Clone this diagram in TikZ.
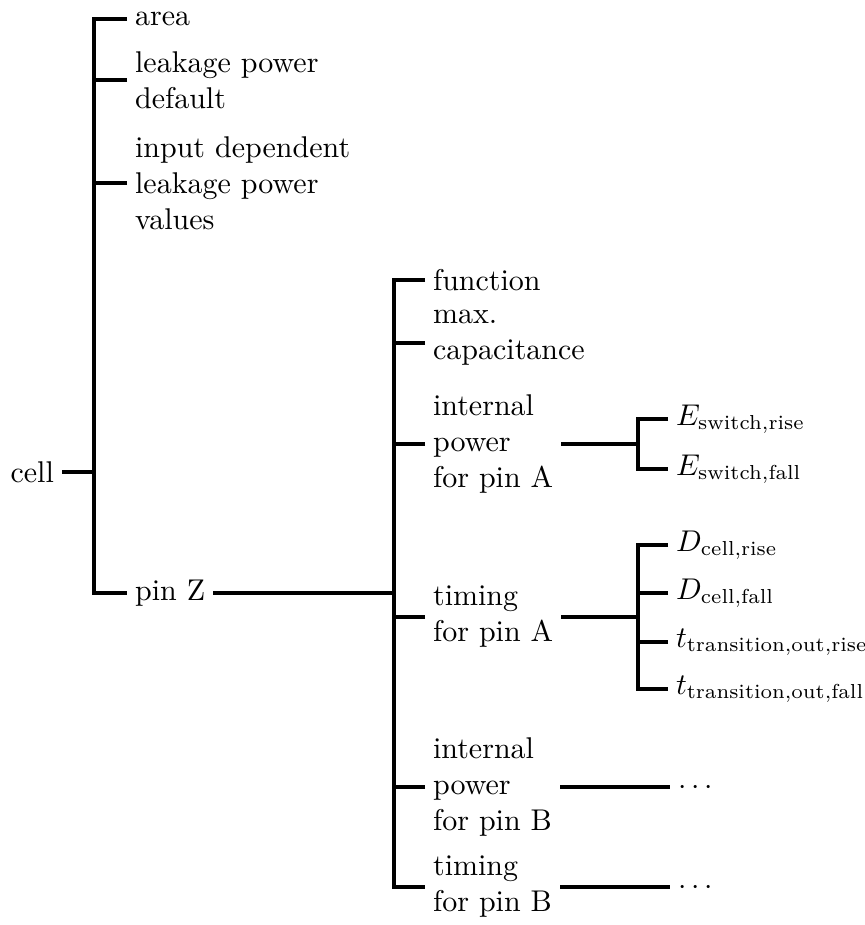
\documentclass[tikz,border=0pt]{standalone}
\newcommand{\idx}[1]{\mbox{\fontsize{6.75}{8}\selectfont #1}}
\begin{document}
\begin{tikzpicture}[x=0.33333pt,y=-0.33333pt,
  every node/.style={inner xsep=2.5pt, inner ysep=0pt},
  lbl/.style={anchor=west, align=left},
  dots/.style={text height=5pt, text depth=0pt},
  conn/.style={line width=1.1pt}]
\useasboundingbox (0,0) rectangle (865,925);

% root and first level
\node[anchor=east] (cell) at (62,472) {cell};
\coordinate (j1) at (94,472);
\node[lbl] (area)   at (127,19)  {area};
\node[lbl] (leak)   at (127,80)  {leakage power\\default};
\node[lbl] (inleak) at (127,183) {input dependent\\leakage power\\values};
\node[lbl] (pinz)   at (127,593) {pin Z};

% attributes of pin Z
\coordinate (j2) at (394,593);
\node[lbl] (func)   at (425,280) {function};
\node[lbl,yshift=1.8pt] (maxcap) at (425,343) {max.\\capacitance};
\node[lbl] (ipa)    at (425,444) {internal\\power\\for pin A};
\node[lbl] (tima)   at (425,617) {timing\\for pin A};
\node[lbl] (ipb)    at (425,787) {internal\\power\\for pin B};
\node[lbl] (timb)   at (425,887) {timing\\for pin B};

% tables of the pin A groups
\coordinate (j3) at (638,444);
\node[lbl] (erise) at (668,419) {$E_{\idx{switch,rise}}$};
\node[lbl] (efall) at (668,469) {$E_{\idx{switch,fall}}$};
\coordinate (j4) at (638,617);
\node[lbl] (drise) at (668,545) {$D_{\idx{cell,rise}}$};
\node[lbl] (dfall) at (668,593) {$D_{\idx{cell,fall}}$};
\node[lbl] (trise) at (668,642) {$t_{\idx{transition,out,rise}}$};
\node[lbl] (tfall) at (668,689) {$t_{\idx{transition,out,fall}}$};

% pin B groups, elided
\node[lbl,dots] (ipbdots)  at (670,787) {$\cdots$};
\node[lbl,dots] (timbdots) at (670,887) {$\cdots$};

% connectors
\draw[conn] (cell.east) -- (j1);
\draw[conn] (area.west) -| (j1) |- (pinz.west);
\draw[conn] (leak.west) -- (leak.west -| j1);
\draw[conn] (inleak.west) -- (inleak.west -| j1);

\draw[conn] (pinz.east) -- (j2);
\draw[conn] (func.west) -| (j2) |- (timb.west);
\draw[conn] ([yshift=-1.8pt]maxcap.west) -- ([yshift=-1.8pt]maxcap.west -| j2);
\draw[conn] (ipa.west) -- (ipa.west -| j2);
\draw[conn] (tima.west) -- (tima.west -| j2);
\draw[conn] (ipb.west) -- (ipb.west -| j2);

\draw[conn] (ipa.east) -- (j3);
\draw[conn] (erise.west) -| (j3) |- (efall.west);

\draw[conn] (tima.east) -- (j4);
\draw[conn] (drise.west) -| (j4) |- (tfall.west);
\draw[conn] (dfall.west) -- (dfall.west -| j4);
\draw[conn] (trise.west) -- (trise.west -| j4);

\draw[conn] (ipb.east) -- (ipbdots.west);
\draw[conn] (timb.east) -- (timbdots.west);
\end{tikzpicture}
\end{document}
